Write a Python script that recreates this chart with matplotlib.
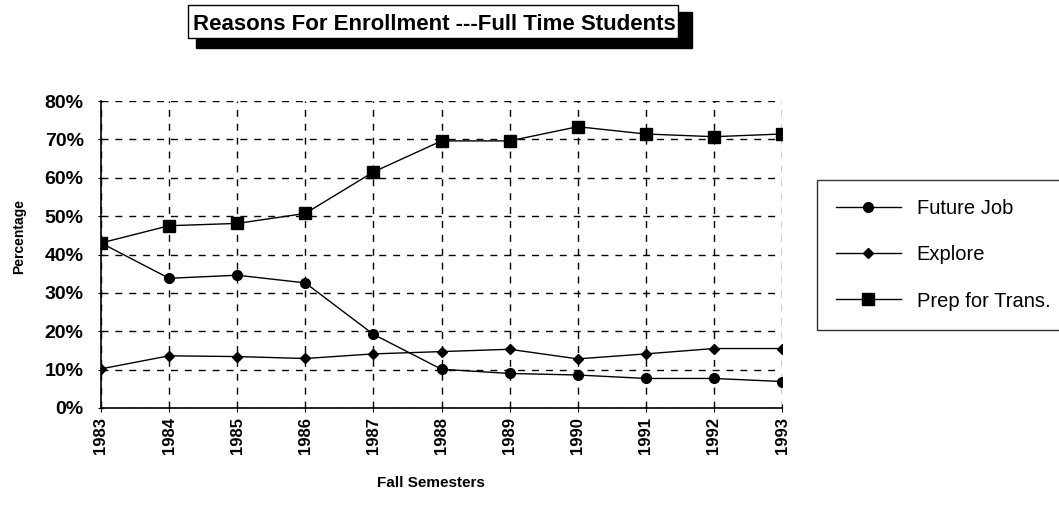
import numpy as np
import matplotlib.pyplot as plt
from matplotlib.ticker import PercentFormatter

# Datos
years = [1983, 1984, 1985, 1986, 1987, 1988, 1989, 1990, 1991, 1992, 1993]
future_job = [43.0, 33.8, 34.6, 32.6, 19.2, 10.1, 9.0, 8.6, 7.7, 7.7, 6.9]
explore = [10.2, 13.6, 13.4, 12.9, 14.1, 14.7, 15.3, 12.8, 14.1, 15.5, 15.5]
prep_trans = [43.0, 47.5, 48.1, 50.7, 61.5, 69.6, 69.6, 73.3, 71.4, 70.7, 71.4]

plt.rcParams['font.family'] = ['Liberation Sans', 'DejaVu Sans']

W, H = 1059, 505
fig = plt.figure(figsize=(W / 100, H / 100), dpi=100)
ax = fig.add_axes([101 / W, 1 - 408 / H, 681 / W, 307 / H])

ax.plot(years, future_job, color='black', lw=1, marker='o', ms=7, label='Future Job')
ax.plot(years, explore, color='black', lw=1, marker='D', ms=5, label='Explore')
ax.plot(years, prep_trans, color='black', lw=1, marker='s', ms=8, label='Prep for Trans.')

ax.set_xlim(1983, 1993)
ax.set_ylim(0, 80)
ax.set_xticks(years)
ax.set_xticklabels([str(y) for y in years], rotation=90, fontsize=12)
ax.set_yticks(np.arange(0, 81, 10))
ax.yaxis.set_major_formatter(PercentFormatter(decimals=0))
ax.tick_params(axis='y', labelsize=14, length=5, direction='inout', pad=10)
ax.tick_params(axis='x', length=6, direction='inout')

ax.grid(True, color='black', linestyle=(0, (5, 5)), lw=1)
ax.spines['top'].set_visible(False)
ax.spines['right'].set_visible(False)
ax.spines['left'].set_linewidth(1.2)
ax.spines['bottom'].set_linewidth(1.2)
for lbl in ax.get_xticklabels() + ax.get_yticklabels():
    lbl.set_fontweight('bold')

ax.set_ylabel('Percentage', fontsize=10, fontweight='bold')
ax.yaxis.set_label_coords((26 - 101) / 681, (408 - 237) / 307)
ax.set_xlabel('Fall Semesters', fontsize=11, fontweight='bold')
ax.xaxis.set_label_coords((431 - 101) / 681, (408 - 476) / 307)

# Titulo en caja con sombra
fig.patches.append(plt.Rectangle((196 / W, 1 - 48 / H), 496 / W, 36 / H,
                                 transform=fig.transFigure, color='black', zorder=1))
fig.patches.append(plt.Rectangle((188 / W, 1 - 38 / H), 490 / W, 33 / H,
                                 transform=fig.transFigure, fc='white', ec='black',
                                 lw=1, zorder=2))
fig.text(434 / W, 1 - 24 / H, 'Reasons For Enrollment ---Full Time Students',
         ha='center', va='center', fontsize=16, fontweight='bold', zorder=3)

leg = fig.legend(loc='upper left', bbox_to_anchor=(817 / W, 1 - 180 / H),
                 fontsize=14.5, frameon=True, fancybox=False, edgecolor='black',
                 labelspacing=1.35, handlelength=3.2, borderpad=0.95, borderaxespad=0)
leg.get_frame().set_linewidth(1)

fig.savefig('out.png', dpi=100)
